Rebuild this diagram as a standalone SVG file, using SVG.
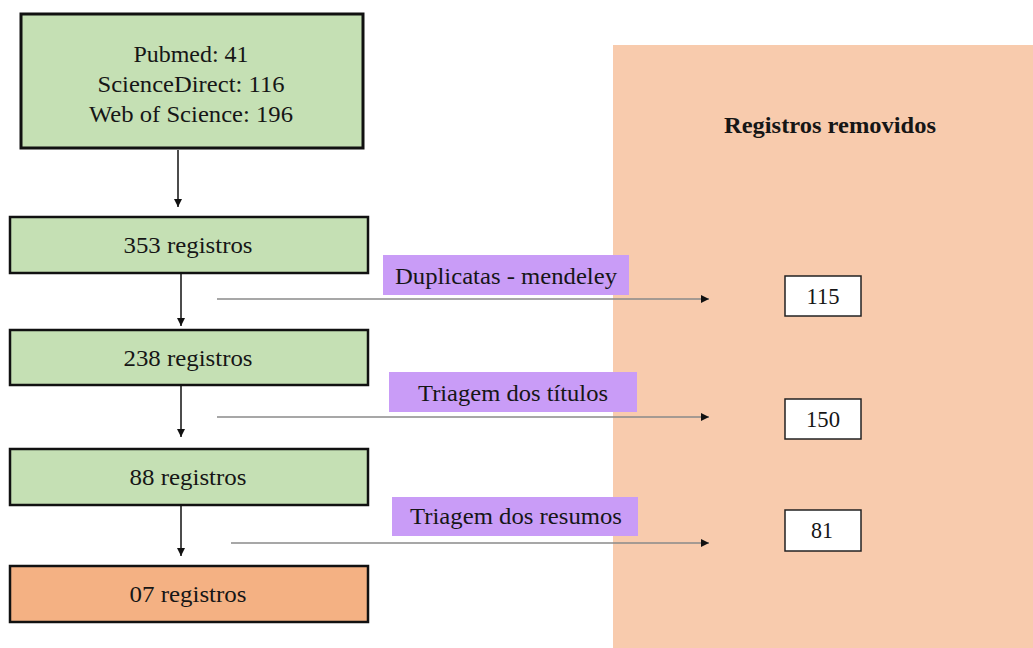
<svg xmlns="http://www.w3.org/2000/svg" width="1033" height="648" viewBox="0 0 1033 648">
<style>
.t{font-family:"Liberation Serif","Times New Roman",serif;font-size:23.5px;fill:#161616;text-anchor:middle}
.b{font-weight:bold;font-size:22.5px}
.g{fill:#c5e0b4;stroke:#111;stroke-width:2.5}
.o{fill:#f4b183;stroke:#111;stroke-width:2.5}
.p{fill:#c99cf7}
.w{fill:#fff;stroke:#222;stroke-width:1.5}
.v{stroke:#111;stroke-width:1.5;fill:none}
.h{stroke:#8a8a8a;stroke-width:1.3;fill:none}
</style>
<defs>
<marker id="ah" viewBox="0 0 10 10" refX="10" refY="5" markerWidth="8" markerHeight="8" markerUnits="userSpaceOnUse" orient="auto">
<path d="M0,0 L10,5 L0,10 z" fill="#111"/>
</marker>
</defs>
<rect width="1033" height="648" fill="#fff"/>
<g id="panel">
<rect x="613" y="45" width="420" height="603" fill="#f8cbad"/>
<text class="t b" x="830" y="133" textLength="212" lengthAdjust="spacingAndGlyphs">Registros removidos</text>
</g>
<g id="connectors">
<line class="v" x1="178" y1="150" x2="178" y2="207" marker-end="url(#ah)"/>
<line class="v" x1="181" y1="274" x2="181" y2="326" marker-end="url(#ah)"/>
<line class="v" x1="181" y1="386" x2="181" y2="437" marker-end="url(#ah)"/>
<line class="v" x1="181" y1="506" x2="181" y2="556" marker-end="url(#ah)"/>
<line class="h" x1="217" y1="299" x2="709" y2="299" marker-end="url(#ah)"/>
<line class="h" x1="217" y1="417" x2="709" y2="417" marker-end="url(#ah)"/>
<line class="h" x1="231" y1="543" x2="709" y2="543" marker-end="url(#ah)"/>
</g>
<g id="n-sources">
<rect class="g" x="21" y="14" width="342" height="134" style="stroke-width:3"/>
<text class="t" x="191" y="62" textLength="115" lengthAdjust="spacingAndGlyphs">Pubmed: 41</text>
<text class="t" x="191" y="92" textLength="187" lengthAdjust="spacingAndGlyphs">ScienceDirect: 116</text>
<text class="t" x="191" y="122" textLength="204" lengthAdjust="spacingAndGlyphs">Web of Science: 196</text>
</g>
<g id="n-353">
<rect class="g" x="10" y="217" width="358" height="56"/>
<text class="t" x="188" y="253" textLength="129" lengthAdjust="spacingAndGlyphs">353 registros</text>
</g>
<g id="n-238">
<rect class="g" x="10" y="330" width="358" height="55"/>
<text class="t" x="188" y="366" textLength="129" lengthAdjust="spacingAndGlyphs">238 registros</text>
</g>
<g id="n-88">
<rect class="g" x="10" y="449" width="358" height="56"/>
<text class="t" x="188" y="485" textLength="117" lengthAdjust="spacingAndGlyphs">88 registros</text>
</g>
<g id="n-07">
<rect class="o" x="10" y="566" width="358" height="56"/>
<text class="t" x="188" y="602" textLength="117" lengthAdjust="spacingAndGlyphs">07 registros</text>
</g>
<g id="l-dup">
<rect class="p" x="383" y="255" width="246" height="40"/>
<text class="t" x="506" y="284" textLength="222" lengthAdjust="spacingAndGlyphs">Duplicatas - mendeley</text>
</g>
<g id="l-tit">
<rect class="p" x="389" y="372" width="248" height="40"/>
<text class="t" x="513" y="401" textLength="190" lengthAdjust="spacingAndGlyphs">Triagem dos títulos</text>
</g>
<g id="l-res">
<rect class="p" x="392" y="497" width="246" height="39"/>
<text class="t" x="516" y="524" textLength="212" lengthAdjust="spacingAndGlyphs">Triagem dos resumos</text>
</g>
<g id="r-115">
<rect class="w" x="785" y="276" width="76" height="40"/>
<text class="t" x="823" y="304" textLength="33" lengthAdjust="spacingAndGlyphs">115</text>
</g>
<g id="r-150">
<rect class="w" x="785" y="399" width="76" height="40"/>
<text class="t" x="823" y="427" textLength="34" lengthAdjust="spacingAndGlyphs">150</text>
</g>
<g id="r-81">
<rect class="w" x="785" y="510" width="76" height="41"/>
<text class="t" x="822" y="538" textLength="22" lengthAdjust="spacingAndGlyphs">81</text>
</g>
</svg>
